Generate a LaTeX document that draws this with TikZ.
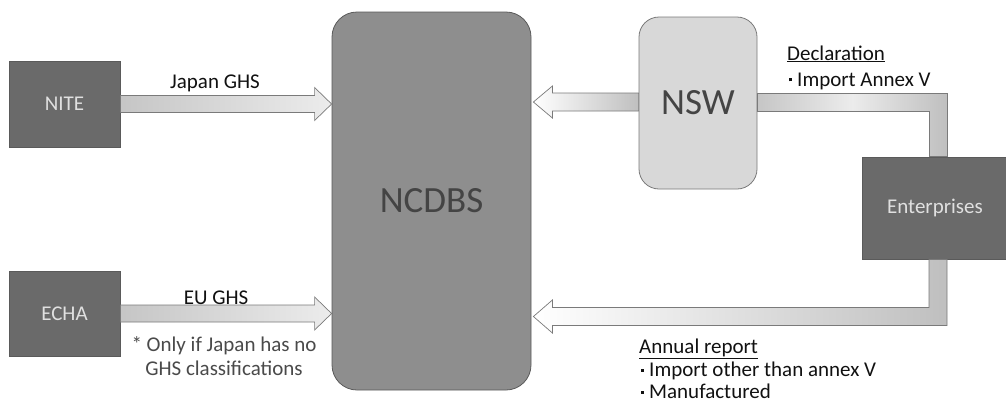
\documentclass[tikz,border=0pt]{standalone}
\usepackage{fontspec}
\setmainfont{Carlito}
\usetikzlibrary{calc}
\definecolor{darkbox}{HTML}{6A6A6A}
\definecolor{darkline}{HTML}{5A5A5A}
\definecolor{midbox}{HTML}{8E8E8E}
\definecolor{lightbox}{HTML}{D8D8D8}
\definecolor{arrowline}{HTML}{7A7A7A}
\definecolor{boxtext}{HTML}{E0E0E0}
\definecolor{bigtext}{HTML}{444444}
\definecolor{labeltext}{HTML}{111111}
\definecolor{notetext}{HTML}{4A4A4A}
\newcommand{\sqbullet}{\rule[0.22em]{3pt}{3pt}\hspace{5pt}}
\begin{document}
\begin{tikzpicture}[x=1pt,y=-1pt,
  darkrect/.style={draw=darkline,fill=darkbox,text=boxtext,font=\fontsize{21}{23}\selectfont,inner sep=0pt,line width=0.8pt},
  bigbox/.style={draw=darkline,fill=midbox,text=bigtext,rounded corners=25pt,font=\fontsize{37}{40}\selectfont,inner sep=0pt,line width=0.8pt},
  nswbox/.style={draw=arrowline,fill=lightbox,text=bigtext,rounded corners=20pt,font=\fontsize{37}{40}\selectfont,inner sep=0pt,line width=0.8pt},
  fatarrow/.style={draw=arrowline,line width=0.7pt},
  lbl/.style={text=labeltext,font=\fontsize{21}{23}\selectfont,inner sep=0pt,anchor=base},
  note/.style={text=notetext,font=\fontsize{21}{23}\selectfont,inner sep=0pt,anchor=base},
  listlbl/.style={text=labeltext,font=\fontsize{21}{23}\selectfont,inner sep=0pt,anchor=base west}
]
\useasboundingbox (0,0) rectangle (1006,405);
\fill[white] (0,0) rectangle (1006,405);

\node[darkrect,minimum width=111pt,minimum height=86pt] (nite) at (64.5,104) {NITE};
\node[darkrect,minimum width=111pt,minimum height=85pt] (echa) at (64.5,313.5) {ECHA};
\node[bigbox,minimum width=199pt,minimum height=378pt] (ncdbs) at (431.5,201) {NCDBS};
\node[nswbox,minimum width=118pt,minimum height=172pt] (nsw) at (698,103) {NSW};
\node[darkrect,minimum width=146pt,minimum height=102pt] (ent) at (935,208) {Enterprises};

% Japan GHS arrow
\coordinate (t1) at (ncdbs.west |- nite.east);
\draw[fatarrow,left color=gray!45,right color=gray!15]
  ($(nite.east)+(0,-8.5)$) -- ($(t1)+(-17,-8.5)$) -- ($(t1)+(-17,-16.5)$) -- (t1)
  -- ($(t1)+(-17,16.5)$) -- ($(t1)+(-17,8.5)$) -- ($(nite.east)+(0,8.5)$) -- cycle;
\node[lbl] (jghs) at (215,88) {Japan GHS};

% EU GHS arrow
\coordinate (t2) at (ncdbs.west |- echa.east);
\coordinate (e2) at (echa.east);
\draw[fatarrow,left color=gray!45,right color=gray!15]
  ($(e2)+(0,-8.5)$) -- ($(t2)+(-17,-8.5)$) -- ($(t2)+(-17,-16.5)$) -- (t2)
  -- ($(t2)+(-17,16.5)$) -- ($(t2)+(-17,8.5)$) -- ($(e2)+(0,8.5)$) -- cycle;
\node[lbl] (eghs) at (216,304) {EU GHS};
\node[note] (onlyif1) at (224,351) {* Only if Japan has no};
\node[note] (onlyif2) at (224,375.5) {GHS classifications};

% NSW -> NCDBS arrow
\coordinate (s3) at ($(nsw.west)+(0,-1)$);
\coordinate (t3) at ($(ncdbs.east |- s3)+(2,0)$);
\draw[fatarrow,left color=white,right color=gray!50]
  ($(s3)+(0,-9)$) -- ($(t3)+(19,-9)$) -- ($(t3)+(19,-16)$) -- (t3)
  -- ($(t3)+(19,16)$) -- ($(t3)+(19,9)$) -- ($(s3)+(0,9)$) -- cycle;

% Enterprises -> NSW bent connector
\coordinate (bt) at (938,102);
\draw[fatarrow,left color=gray!45,right color=gray!50,middle color=gray!15]
  ($(nsw.east |- bt)+(0,-9)$) -- ($(bt)+(9,-9)$) -- ($(bt |- ent.north)+(9,0)$)
  -- ($(bt |- ent.north)+(-9,0)$) -- ($(bt)+(-9,9)$) -- ($(nsw.east |- bt)+(0,9)$) -- cycle;
\node[listlbl] (decl) at (787,60) {\underline{Declaration}};
\node[listlbl] (decl1) at (789,86) {\sqbullet Import Annex V};

% Enterprises -> NCDBS bent arrow
\coordinate (bb) at (938,316.5);
\coordinate (t4) at ($(ncdbs.east |- bb)+(2,0)$);
\draw[fatarrow,left color=white,right color=gray!50]
  ($(bb |- ent.south)+(-9,0)$) -- ($(bb)+(-9,-9)$) -- ($(t4)+(19,-9)$) -- ($(t4)+(19,-16.5)$)
  -- (t4) -- ($(t4)+(19,16.5)$) -- ($(t4)+(19,9)$) -- ($(bb)+(9,9)$) -- ($(bb |- ent.south)+(9,0)$) -- cycle;
\node[listlbl] (annual) at (639,353) {\underline{Annual report}};
\node[listlbl] (annual1) at (641,376.5) {\sqbullet Import other than annex V};
\node[listlbl] (annual2) at (641,398.5) {\sqbullet Manufactured};
\end{tikzpicture}
\end{document}
